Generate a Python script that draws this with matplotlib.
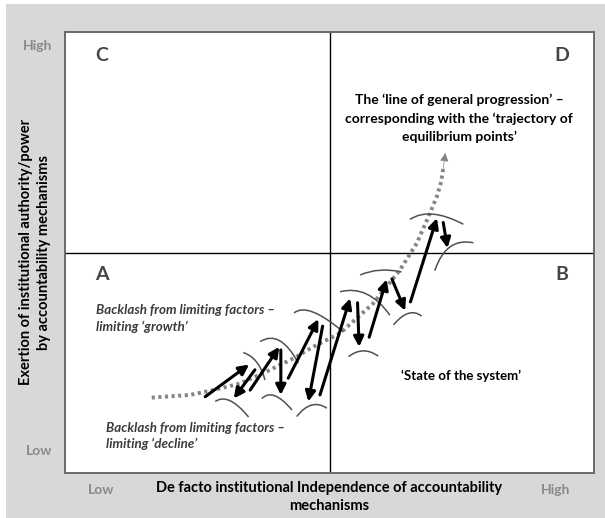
import matplotlib.pyplot as plt
from matplotlib.path import Path
from matplotlib.patches import PathPatch, Rectangle

plt.rcParams['font.family'] = ['Lato', 'DejaVu Sans']

# dotted "line of general progression" (x, y on a 0-100 scale)
trend_x = [16.4, 23.6, 28.0, 33.1, 38.1, 43.2, 46.9, 52.0, 58.3, 63.3, 66.5, 68.7, 70.3, 71.1, 71.5]
trend_y = [17.1, 17.7, 18.8, 20.3, 23.0, 26.0, 28.6, 31.7, 38.5, 46.0, 52.1, 58.1, 62.7, 66.0, 69.0]
trend_tip = (71.9, 72.6)

# black arrows: tail -> tip
arrow_tails = [(26.5, 17.3), (35.9, 23.4), (35.0, 18.8), (40.8, 27.9), (42.2, 21.5), (48.7, 33.3),
               (48.2, 17.7), (55.3, 38.6), (57.5, 30.8), (61.8, 44.0), (65.3, 38.8), (71.5, 56.8)]
arrow_tips = [(34.8, 24.6), (31.9, 16.9), (40.5, 28.6), (40.8, 17.7), (47.9, 34.9), (46.0, 16.2),
              (53.9, 39.6), (55.6, 28.6), (60.8, 43.9), (64.3, 36.8), (70.3, 57.8), (72.3, 51.0)]

# limiting arcs: start, middle, end
arc_start = [(33.7, 27.3), (36.9, 29.8), (43.3, 36.3), (52.0, 41.1), (55.8, 44.9), (65.2, 57.5),
             (69.9, 45.9), (28.4, 16.2), (37.2, 16.9), (43.8, 12.8), (53.6, 26.4), (62.1, 33.6)]
arc_mid = [(36.2, 25.2), (40.6, 30.0), (46.9, 36.5), (57.0, 40.6), (59.5, 46.0), (69.6, 58.7),
           (72.8, 51.3), (31.2, 16.4), (39.7, 17.5), (46.6, 15.4), (56.4, 27.7), (64.9, 36.2)]
arc_end = [(37.8, 21.1), (44.1, 24.9), (52.6, 32.0), (61.4, 35.8), (63.6, 45.6), (75.3, 56.4),
           (77.2, 52.2), (34.7, 12.7), (42.9, 14.3), (49.5, 14.7), (59.2, 26.5), (67.4, 35.6)]

quadrants = ['C', 'D', 'A', 'B']
quad_x = [7, 94, 7, 94]
quad_y = [94.6, 94.6, 44.9, 44.9]

fig = plt.figure(figsize=(6.05, 5.18), dpi=100)
fig.patch.set_facecolor('white')
fig.patches.append(Rectangle((6 / 605, 0), 1, 1 - 4 / 518, transform=fig.transFigure,
                             facecolor='#d8d8d8', edgecolor='none', zorder=-10))

ax = fig.add_axes([65 / 605, 1 - 473 / 518, 529 / 605, 441 / 518])
ax.set_facecolor('white')
ax.set_xlim(0, 100)
ax.set_ylim(0, 100)
for s in ax.spines.values():
    s.set_color('#6a6a6a')
    s.set_linewidth(1.4)

ax.set_xticks([6.8, 92.8], ['Low', 'High'])
ax.set_yticks([5.2, 97], ['Low', 'High'])
ax.tick_params(length=0, labelsize=10, labelcolor='#8a8a8a')
ax.tick_params(axis='x', pad=8)
ax.tick_params(axis='y', pad=9)
for lab in ax.get_xticklabels() + ax.get_yticklabels():
    lab.set_fontweight('bold')

ax.axvline(50, color='black', lw=1)
ax.axhline(50, color='black', lw=1)

for q, qx, qy in zip(quadrants, quad_x, quad_y):
    ax.text(qx, qy, q, fontsize=14, fontweight='bold', color='#454545', ha='center', va='center')

# trend line
ax.plot(trend_x, trend_y, linestyle=(0, (0.8, 0.9)), lw=2.8, color='#858585', zorder=2)
ax.annotate('', xy=trend_tip, xytext=(trend_x[-1], trend_y[-1]),
            arrowprops=dict(arrowstyle='-|>', color='#858585', lw=0.5, mutation_scale=13,
                            shrinkA=0, shrinkB=0), zorder=2)

for s0, m, e in zip(arc_start, arc_mid, arc_end):
    c = (2 * m[0] - (s0[0] + e[0]) / 2, 2 * m[1] - (s0[1] + e[1]) / 2)
    p = Path([s0, c, e], [Path.MOVETO, Path.CURVE3, Path.CURVE3])
    ax.add_patch(PathPatch(p, facecolor='none', edgecolor='#505050', lw=1.1, zorder=3))

for t, h in zip(arrow_tails, arrow_tips):
    ax.annotate('', xy=h, xytext=t,
                arrowprops=dict(arrowstyle='-|>', color='black', lw=2.2, mutation_scale=15,
                                shrinkA=0, shrinkB=0), zorder=4)

ax.text(74.5, 80.4, 'The \u2018line of general progression\u2019 \u2013\n'
        'corresponding with the \u2018trajectory of\nequilibrium points\u2019',
        ha='center', va='center', fontsize=10, fontweight='bold', linespacing=1.6)
ax.text(5.8, 35.0, 'Backlash from limiting factors \u2013\nlimiting \u2018growth\u2019',
        ha='left', va='center', fontsize=9.6, fontweight='bold', style='italic',
        color='#3c3c3c', linespacing=1.4)
ax.text(7.8, 8.4, 'Backlash from limiting factors \u2013\nlimiting \u2018decline\u2019',
        ha='left', va='center', fontsize=9.6, fontweight='bold', style='italic',
        color='#3c3c3c', linespacing=1.4)
ax.text(63.6, 22.1, '\u2018State of the system\u2019', ha='left', va='center',
        fontsize=9.5, fontweight='bold')

fig.text(35 / 605, 1 - 252 / 518, 'Exertion of institutional authority/power\nby accountability mechanisms',
         rotation=90, ha='center', va='center', fontsize=10.5, fontweight='bold', linespacing=1.3)
fig.text(329 / 605, 1 - 497 / 518, 'De facto institutional Independence of accountability\nmechanisms',
         ha='center', va='center', fontsize=10.5, fontweight='bold', linespacing=1.35)

fig.savefig('out.png', dpi=100)
